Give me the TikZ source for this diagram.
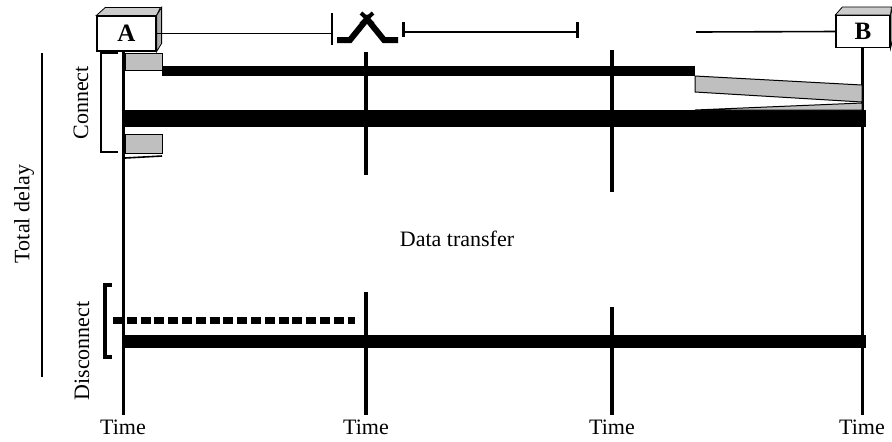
\documentclass[tikz,border=0pt]{standalone}
\usepackage{fontspec}
\setmainfont{Liberation Serif}
\usetikzlibrary{positioning,calc}

\begin{document}
\begin{tikzpicture}[
    x=0.5pt, y=-0.5pt,
    every node/.style={font=\fontsize{11}{13}\selectfont, inner sep=0pt},
    host/.style={draw, line width=0.6pt, fill=white, minimum width=#1,
                 font=\fontsize{12.5}{14}\selectfont\bfseries},
    face/.style={draw, line width=0.4pt, fill=gray!#1},
    timeline/.style={line width=1.5pt},
    tick/.style={line width=2pt},
    bar/.style={line width=#1},
    shade/.style={draw, line width=0.5pt, fill=gray!50},
    hair/.style={line width=0.8pt},
    side/.style={rotate=90},
  ]
  \useasboundingbox (0,0) rectangle (892,441);

  \node[host=29.5pt, minimum height=17.5pt] (A) at (126.5,33.5) {A};
  \filldraw[face=40] (A.north west) -- ++(9,-8) -- ++(55,0) -- (A.north east) -- cycle;
  \filldraw[face=65] (A.north east) -- ++(5,-8) -- ++(0,36) -- (A.south east) -- cycle;
  \node[host=27pt, minimum height=16pt] (B) at (863,31.5) {B};
  \filldraw[face=40] (B.north west) -- ++(7,-8) -- ++(49,0) -- (B.north east) -- cycle;
  \filldraw[face=65] (B.north east) -- ++(2,-8) -- ++(0,33) -- (B.south east) -- cycle;

  \coordinate (m1) at (332,33);
  \coordinate (m2) at (403,32);
  \coordinate (m3) at (577,32);
  \coordinate (m4) at (696,32);
  \draw[hair] (A.east) -- (A.east -| m1);
  \draw[line width=1pt] (m1 |- 0,13) -- (m1 |- 0,45);
  \draw[line width=3pt, line join=miter] (337,40) -- (350,40) -- (367,19) -- (384,40) -- (398,40);
  \draw[line width=2pt] (361,13) -- (373,24) (373,13) -- (361,24);
  \draw[line width=1.5pt] (m2 |- 0,22) -- (m2 |- 0,37);
  \draw[hair] (m2) -- (m3);
  \draw[line width=1.5pt] (m3 |- 0,22) -- (m3 |- 0,38);
  \draw[hair] (m4) -- (B.west);

  \coordinate (tA) at (123,415);
  \coordinate (t1) at (366,415);
  \coordinate (t2) at (612,415);
  \coordinate (tB) at (862,415);
  \draw[timeline] (tA |- A.south) -- (tA);
  \draw[timeline] (tB |- B.south) -- (tB);
  \draw[tick] (t1 |- 0,52) -- (t1 |- 0,175);
  \draw[tick] (t1 |- 0,292) -- (t1);
  \draw[tick] (t2 |- 0,50) -- (t2 |- 0,192);
  \draw[tick] (t2 |- 0,307) -- (t2);
  \foreach \t in {tA,t1,t2,tB}
    \node[below=2.5pt of \t] (time-\t) {Time};

  \filldraw[shade] (125,53) rectangle (162,70);
  \draw[bar=5pt] (162,71) -- (695,71);
  \filldraw[shade] (695,76) -- (862,85) -- (862,102) -- (695,92) -- cycle;
  \draw[bar=8.5pt] (124,118.5) -- (866,118.5);
  \filldraw[shade] (695,110) -- (862,103) -- (862,110) -- cycle;
  \filldraw[shade] (125,134) rectangle (162,153);
  \draw[hair] (125,158) -- (162,156);

  \draw[hair] (118,53) -- (101,53) -- (101,152) -- (118,152);
  \node[side] (connect) at (81,103) {Connect};
  \draw[line width=0.6pt] (42,53) -- (42,377);
  \node[side] (delay) at (24,214) {Total delay};

  \node (xfer) at (457,239) {Data transfer};

  \draw[line width=3.5pt, dash pattern=on 5pt off 1.9pt] (113,320) -- (355,320);
  \draw[bar=6.5pt] (124,341.5) -- (866,341.5);
  \draw[line width=2pt] (112,285) -- (105,285) -- (105,357) -- (112,357);
  \node[side] (disconnect) at (82,351) {Disconnect};
\end{tikzpicture}
\end{document}
